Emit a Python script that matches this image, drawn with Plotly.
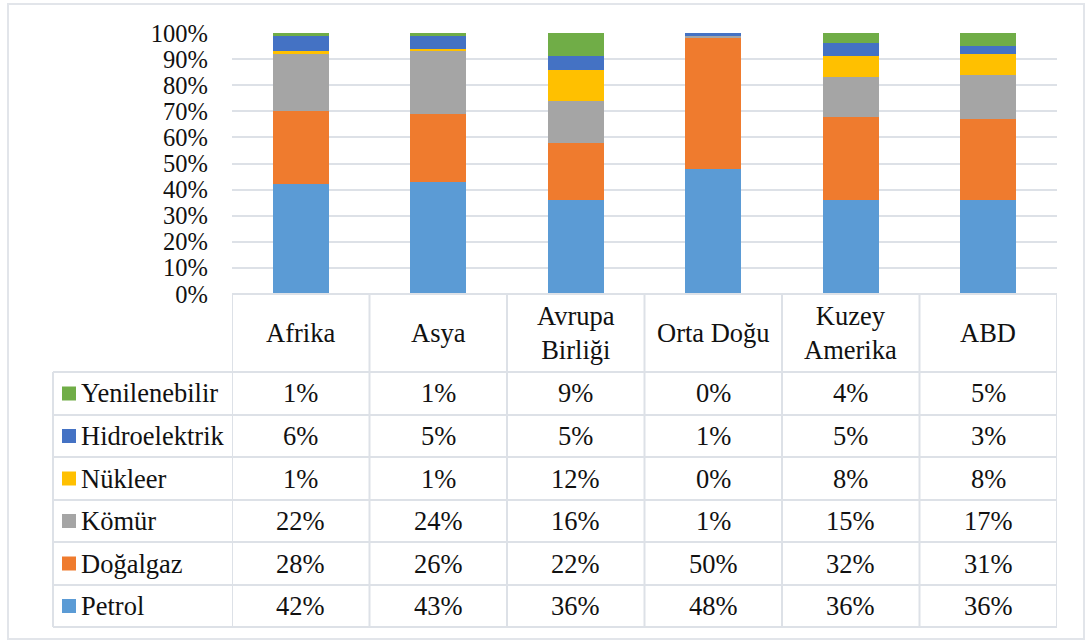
import plotly.graph_objects as go

categories = ["Afrika", "Asya", "Avrupa Birliği", "Orta Doğu", "Kuzey Amerika", "ABD"]
category_labels = ["Afrika", "Asya", "Avrupa<br>Birliği", "Orta Doğu", "Kuzey<br>Amerika", "ABD"]

petrol = [42, 43, 36, 48, 36, 36]
dogalgaz = [28, 26, 22, 50, 32, 31]
komur = [22, 24, 16, 1, 15, 17]
nukleer = [1, 1, 12, 0, 8, 8]
hidroelektrik = [6, 5, 5, 1, 5, 3]
yenilenebilir = [1, 1, 9, 0, 4, 5]

series_names = ["Petrol", "Doğalgaz", "Kömür", "Nükleer", "Hidroelektrik", "Yenilenebilir"]
series_values = [petrol, dogalgaz, komur, nukleer, hidroelektrik, yenilenebilir]
series_colors = ["#5B9BD5", "#EF7B2E", "#A5A5A5", "#FFC000", "#4472C4", "#70AD47"]

W, H = 1086, 642
L, R, T, B = 232, 29, 33, 348
PW, PH = W - L - R, H - T - B

def py(p):
    return (H - B - p) / PH

def px(p):
    return (p - L) / PW

FONT = "Liberation Serif"
FS = 26.5
GRID = "#dde1e7"

fig = go.Figure()
for name, vals, col in zip(series_names, series_values, series_colors):
    fig.add_trace(go.Bar(x=categories, y=vals, name=name, marker=dict(color=col, line=dict(width=0)),
                         width=0.41, showlegend=False))

shapes = []
annotations = []

row_order = list(range(len(series_names)))[::-1]
header_top, header_bot = 294, 372
row_edges = [372, 415, 457, 500, 542, 585, 627]
left_edge = 53

shapes.append(dict(type="line", xref="paper", yref="paper", x0=0, x1=1, y0=py(header_top), y1=py(header_top),
                   line=dict(color=GRID, width=2)))
for e in row_edges:
    shapes.append(dict(type="line", xref="paper", yref="paper", x0=px(left_edge), x1=1, y0=py(e), y1=py(e),
                       line=dict(color=GRID, width=2)))
n = len(categories)
for i in range(n + 1):
    xv = i - 0.5
    shapes.append(dict(type="line", xref="x", yref="paper", x0=xv, x1=xv, y0=py(header_top), y1=py(row_edges[-1]),
                       line=dict(color=GRID, width=2)))
shapes.append(dict(type="line", xref="paper", yref="paper", x0=px(left_edge), x1=px(left_edge),
                   y0=py(row_edges[0]), y1=py(row_edges[-1]), line=dict(color=GRID, width=2)))
shapes.append(dict(type="rect", xref="paper", yref="paper", x0=px(8), x1=px(1084), y0=py(4), y1=py(639),
                   line=dict(color="#e2e5ea", width=2), layer="below"))

for cat, lab in zip(categories, category_labels):
    annotations.append(dict(x=cat, xref="x", y=py((header_top + header_bot) / 2), yref="paper", text=lab,
                            showarrow=False, font=dict(family=FONT, size=FS, color="#111"),
                            xanchor="center", yanchor="middle"))

for r, si in enumerate(row_order):
    yc = py((row_edges[r] + row_edges[r + 1]) / 2)
    shapes.append(dict(type="rect", xref="paper", yref="paper", x0=px(62), x1=px(76),
                       y0=yc - 7 / PH, y1=yc + 7 / PH, fillcolor=series_colors[si], line=dict(width=0)))
    annotations.append(dict(x=px(79), xref="paper", y=yc, yref="paper", text=series_names[si],
                            showarrow=False, font=dict(family=FONT, size=FS, color="#111"),
                            xanchor="left", yanchor="middle"))
    for cat, v in zip(categories, series_values[si]):
        annotations.append(dict(x=cat, xref="x", y=yc, yref="paper", text=f"{v}%",
                                showarrow=False, font=dict(family=FONT, size=FS, color="#111"),
                                xanchor="center", yanchor="middle"))

fig.update_layout(
    width=W, height=H,
    margin=dict(l=L, r=R, t=T, b=B),
    barmode="stack",
    plot_bgcolor="white", paper_bgcolor="white",
    font=dict(family=FONT, size=FS, color="#111"),
    xaxis=dict(showticklabels=False, showgrid=False, zeroline=False, showline=False,
               range=[-0.5, n - 0.5], fixedrange=True),
    yaxis=dict(range=[0, 100], tickvals=list(range(0, 101, 10)),
               ticktext=[f"{v}%" for v in range(0, 101, 10)],
               showgrid=True, gridcolor=GRID, gridwidth=1.5, zeroline=False, showline=False,
               tickfont=dict(family=FONT, size=24.5, color="#111"), ticks="", ticklabelstandoff=23),
    shapes=shapes,
    annotations=annotations,
)

fig.write_html("out.html", config={"displayModeBar": False},
               post_script="document.body.style.margin='0';document.body.style.overflow='hidden';")
